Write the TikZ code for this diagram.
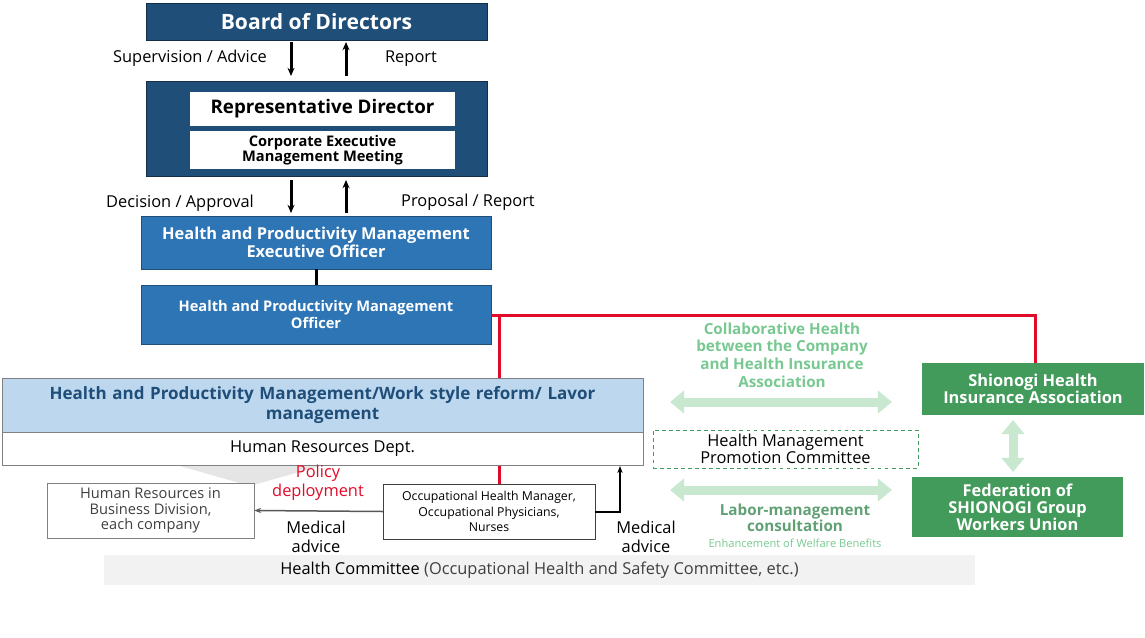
\documentclass[tikz,border=0pt]{standalone}
\usepackage{fontspec}
\setmainfont{Open Sans}
\usetikzlibrary{arrows.meta}
\definecolor{darkblue}{RGB}{31,78,121}
\definecolor{midblue}{RGB}{46,117,182}
\definecolor{lightblue}{RGB}{189,215,238}
\definecolor{textblue}{RGB}{31,78,121}
\definecolor{boxgreen}{RGB}{66,155,90}
\definecolor{palegreen}{RGB}{200,232,208}
\definecolor{txtgreen}{RGB}{120,200,145}
\definecolor{redline}{RGB}{225,10,40}
\newlength{\du}
\setlength{\du}{0.03cm}
\tikzset{
  darkbox/.style={draw=darkblue!60!black,fill=darkblue,text=white,font=\bfseries},
  bluebox/.style={draw=darkblue,fill=midblue,text=white,font=\bfseries\fontsize{14}{15}\selectfont,align=center},
  whitebox/.style={fill=white,text=black,font=\bfseries,align=center},
  greenbox/.style={fill=boxgreen,text=white,font=\bfseries\fontsize{14}{15}\selectfont,align=center},
  plainbox/.style={draw=gray,fill=white,align=center},
  lbl/.style={font=\fontsize{14}{16}\selectfont,align=center},
  fatarrow/.style={palegreen,line width=9\du,{Triangle[length=12pt,width=19pt]}-{Triangle[length=12pt,width=19pt]}},
  flowarrow/.style={-{Stealth[length=7pt,width=6pt]},line width=3\du}
}
\begin{document}
\begin{tikzpicture}[x=\du,y=-\du]
\useasboundingbox (0,0) rectangle (1145,637);
% top of the chain
\node[darkbox,minimum width=341\du,minimum height=37\du,font=\bfseries\fontsize{18}{19}\selectfont] (board) at (316.5,21.5) {Board of Directors};
\node[darkbox,minimum width=341\du,minimum height=95\du] (exec) at (316.5,128.5) {};
\node[whitebox,minimum width=265\du,minimum height=34\du,font=\bfseries\fontsize{16}{17}\selectfont] (rep) at (322.5,109) {Representative Director};
\node[whitebox,minimum width=265\du,minimum height=34\du,font=\bfseries\fontsize{12.5}{13}\selectfont] (meeting) at (322.5,150) {Corporate Executive\\Management Meeting};
\draw[flowarrow] (291,42) -- (291,76);
\draw[flowarrow] (346,76) -- (346,42);
\node[lbl] (supervision) at (190,58) {Supervision / Advice};
\node[lbl] (report) at (411,59) {Report};
\draw[flowarrow] (291,180) -- (291,213);
\draw[flowarrow] (346,213) -- (346,180);
\node[lbl] (decision) at (180,203) {Decision / Approval};
\node[lbl] (proposal) at (468,202) {Proposal / Report};
% officers
\node[bluebox,minimum width=350\du,minimum height=53\du] (hpmexec) at (316,242.5) {Health and Productivity Management\\Executive Officer};
\node[bluebox,minimum width=350\du,minimum height=59\du,font=\bfseries\fontsize{12.5}{15}\selectfont] (hpmoff) at (316,314.5) {Health and Productivity Management\\Officer};
\draw[line width=3\du] (hpmexec) -- (hpmoff);
% red links
\coordinate (redcorner) at (1035,315);
\draw[redline,line width=3\du] (hpmoff.east |- redcorner) -- (redcorner) -- (1035,363);
\draw[redline,line width=3\du] (499,315) -- (499,378);
\draw[redline,line width=3\du] (499,465) -- (499,484);
% HR department
\node[draw=gray,fill=lightblue,text=textblue,font=\bfseries\fontsize{14.5}{17}\selectfont,align=center,minimum width=641\du,minimum height=54\du,text width=610\du] (reform) at (322.5,405) {Health and Productivity Management/Work style reform/ Lavor\\management};
\node[draw=gray,fill=white,minimum width=641\du,minimum height=33\du,font=\fontsize{14}{16}\selectfont] (hrdept) at (322.5,448.5) {Human Resources Dept.};
\fill[gray!20] (180,466) -- (320,466) -- (250,486) -- cycle;
\node[lbl,text=redline] (policy) at (318,483) {Policy\\deployment};
\node[plainbox,minimum width=207\du,minimum height=55\du,text=darkgray,font=\fontsize{12.5}{13.5}\selectfont] (hrdiv) at (150.5,510.5) {Human Resources in\\Business Division,\\each company};
\node[plainbox,draw=darkgray,minimum width=212\du,minimum height=55\du,font=\fontsize{10.5}{13}\selectfont] (occ) at (489,511.5) {Occupational Health Manager,\\Occupational Physicians,\\Nurses};
\draw[gray!70!black,line width=1.5\du,-{Stealth[length=6pt]}] (occ.west) -- (hrdiv.east);
\draw[line width=2\du,-{Stealth[length=6pt]}] (occ.east) -- (620,511.5) -- (620,466);
\node[lbl] (advice1) at (316,537) {Medical\\advice};
\node[lbl] (advice2) at (646,537) {Medical\\advice};
\node[fill=gray!10,minimum width=871\du,minimum height=30\du,font=\fontsize{14}{16}\selectfont] (committee) at (539.5,570) {Health Committee\ {\color{darkgray}(Occupational Health and Safety Committee, etc.)}};
% partners
\node[greenbox,minimum width=222\du,minimum height=52\du] (insurance) at (1033,389) {Shionogi Health\\Insurance Association};
\node[greenbox,minimum width=211\du,minimum height=60\du,font=\bfseries\fontsize{14}{14.5}\selectfont] (union) at (1017.5,507) {Federation of\\SHIONOGI Group\\Workers Union};
\draw[fatarrow] (1013,420) -- (1013,472);
\draw[fatarrow] (670,402) -- (892,402);
\draw[fatarrow] (670,490) -- (892,490);
\node[lbl,text=txtgreen,font=\bfseries\fontsize{13}{15}\selectfont] (collab) at (782,355) {Collaborative Health\\between the Company\\and Health Insurance\\Association};
\node[draw=boxgreen,dashed,minimum width=265\du,minimum height=34\du,font=\fontsize{14}{15}\selectfont,align=center] (promo) at (785.5,449) {Health Management\\Promotion Committee};
\node[lbl,text=txtgreen!80!black,font=\bfseries\fontsize{13}{14}\selectfont] (labor) at (795,518) {Labor-management\\consultation};
\node[text=txtgreen,font=\fontsize{9.5}{10}\selectfont] (welfare) at (795,543) {Enhancement of Welfare Benefits};
\end{tikzpicture}
\end{document}
